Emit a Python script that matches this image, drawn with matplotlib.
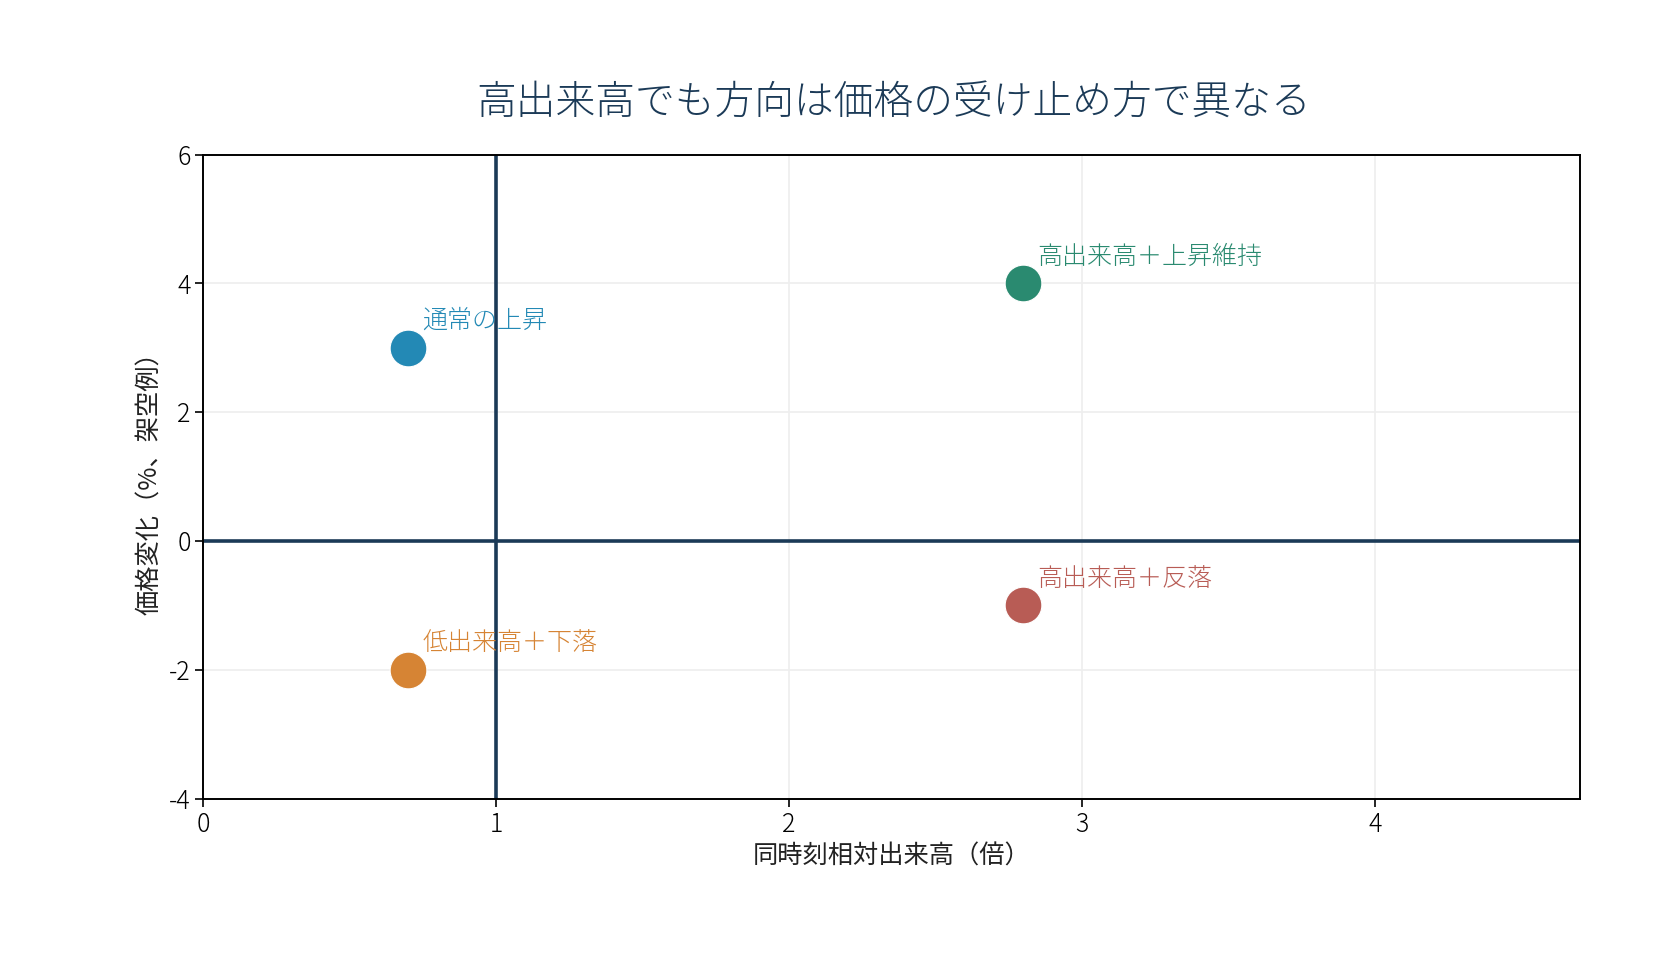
import matplotlib
matplotlib.use("Agg")
import matplotlib.pyplot as plt

plt.rcParams['font.family'] = ['Noto Sans CJK JP', 'DejaVu Sans']
plt.rcParams['font.weight'] = 'light'
plt.rcParams['axes.unicode_minus'] = False

# data
labels = ['通常の上昇', '高出来高＋上昇維持', '高出来高＋反落', '低出来高＋下落']
rel_volume = [0.7, 2.8, 2.8, 0.7]
price_change = [3, 4, -1, -2]
colors = ['#2389b5', '#2a8a70', '#b85c55', '#d68434']
xticks = [0, 1, 2, 3, 4]
yticks = [-4, -2, 0, 2, 4, 6]

fig = plt.figure(figsize=(8.4, 4.8), dpi=200)
ax = fig.add_axes([0.121, 0.168, 0.8195, 0.671])

ax.grid(True, color='#eeeeee', linewidth=0.6)
ax.set_axisbelow(True)
ax.axhline(0, color='#1b3a57', linewidth=1.3, zorder=2)
ax.axvline(1, color='#1b3a57', linewidth=1.3, zorder=2)

for x, y, c, lab in zip(rel_volume, price_change, colors, labels):
    ax.scatter(x, y, s=175, color=c, edgecolors='white', linewidths=0.4, zorder=3)
    ax.annotate(lab, (x, y), xytext=(5, 5), textcoords='offset points',
                ha='left', va='bottom', color=c, fontsize=9)

ax.set_xlim(0, 4.7)
ax.set_ylim(-4, 6)
ax.set_xticks(xticks)
ax.set_yticks(yticks)
ax.tick_params(labelsize=9, length=3, width=0.6, pad=1.5)
for s in ax.spines.values():
    s.set_linewidth(0.7)

ax.set_xlabel('同時刻相対出来高（倍）', fontsize=9.1, color='#222222', labelpad=2)
ax.set_ylabel('価格変化（%、架空例）', fontsize=9.1, color='#222222', labelpad=2)
fig.text(0.532, 0.893, '高出来高でも方向は価格の受け止め方で異なる',
         ha='center', va='center', fontsize=14.3, color='#1b3a57')

fig.savefig('out.png', dpi=200)
